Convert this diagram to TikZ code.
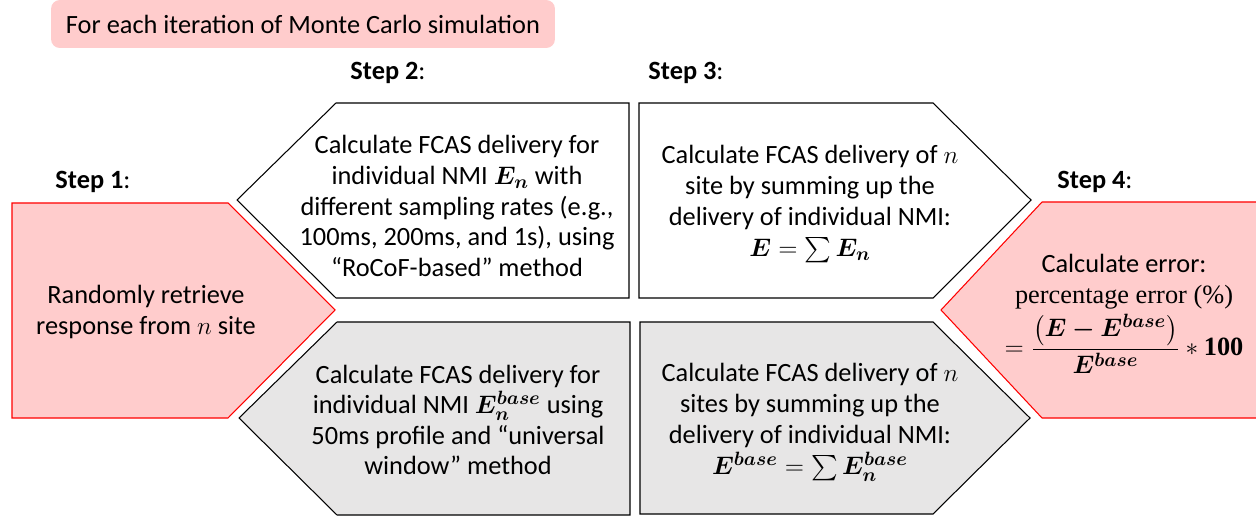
\documentclass[tikz,border=0pt]{standalone}
\usepackage{amsmath}
\usepackage{bm}
\usepackage{fontspec}
\setmainfont{Carlito}
\newfontfamily\serifmath{Liberation Serif}
\usetikzlibrary{positioning}

\definecolor{pinkfill}{HTML}{FFCCCC}
\definecolor{greyfill}{HTML}{E7E6E6}

\tikzset{
  redbox/.style={draw=red, fill=pinkfill, line width=0.6pt, line join=miter},
  whitebox/.style={draw=black, fill=white, line width=0.6pt},
  greybox/.style={draw=black, fill=greyfill, line width=0.6pt},
  boxtext/.style={align=center, inner sep=0pt, font=\fontsize{15}{17.4}\selectfont},
  sumtext/.style={boxtext, font=\fontsize{15}{17.8}\selectfont},
  steplabel/.style={inner sep=0pt, font=\fontsize{15}{17}\selectfont}
}

\begin{document}
\begin{tikzpicture}[x=0.02cm, y=-0.02cm]
\useasboundingbox (0,0) rectangle (1256,516);

% banner on top
\node [fill=pinkfill, rounded corners=5pt, minimum width=10.08cm, minimum height=0.96cm,
       boxtext] at (303,24) (banner) {For each iteration of Monte Carlo simulation};

% step labels
\node [steplabel] at (93,182) (lab1) {\textbf{Step 1}:};
\node [steplabel] at (388,73) (lab2) {\textbf{Step 2}:};
\node [steplabel] at (686,73) (lab3) {\textbf{Step 3}:};
\node [steplabel] at (1095,182) (lab4) {\textbf{Step 4}:};

% step 1
\draw [redbox] (12,203) -- (228,203) -- (335,310) -- (228,418) -- (12,418) -- cycle;
\node [boxtext] at (146,312) (retrieve) {Randomly retrieve\\response from $n$ site};

% step 2
\draw [whitebox] (237,200) -- (336,103) -- (629,103) -- (629,298) -- (336,298) -- cycle;
\node [boxtext] at (457,206) (deliv) {Calculate FCAS delivery for\\
  individual NMI $\bm{E_n}$ with\\
  different sampling rates (e.g.,\\
  100ms, 200ms, and 1s), using\\
  ``RoCoF-based'' method};

\draw [greybox] (239,418) -- (337,322) -- (630,322) -- (630,515) -- (337,515) -- cycle;
\node [boxtext] at (458,420) (delivbase) {Calculate FCAS delivery for\\
  individual NMI $\bm{E_n^{base}}$ using\\
  50ms profile and ``universal\\
  window'' method};

% step 3
\draw [whitebox] (639,103) -- (933,103) -- (1031,200) -- (933,298) -- (639,298) -- cycle;
\node [sumtext] at (810,204) (total) {Calculate FCAS delivery of $n$\\
  site by summing up the\\
  delivery of individual NMI:\\
  $\bm{E} = \textstyle\sum \bm{E_n}$};

\draw [greybox] (640,322) -- (933,322) -- (1030,418) -- (933,514) -- (640,514) -- cycle;
\node [sumtext] at (810,422) (totalbase) {Calculate FCAS delivery of $n$\\
  sites by summing up the\\
  delivery of individual NMI:\\
  $\bm{E^{base}} = \textstyle\sum \bm{E_n^{base}}$};

% step 4, runs off the right edge
\fill [pinkfill] (1257,202) -- (1042,202) -- (941,310) -- (1042,418) -- (1257,418) -- cycle;
\draw [red, line width=0.6pt] (1257,202) -- (1042,202) -- (941,310) -- (1042,418) -- (1257,418);
\node [boxtext] at (1124,314) (error) {Calculate error:\\
  {\serifmath percentage error (\%)}\\[2pt]
  $= \dfrac{\bm{\big(E - E^{base}\big)}}{\bm{E^{base}}} * \text{\serifmath\bfseries 100}$};
\end{tikzpicture}
\end{document}
